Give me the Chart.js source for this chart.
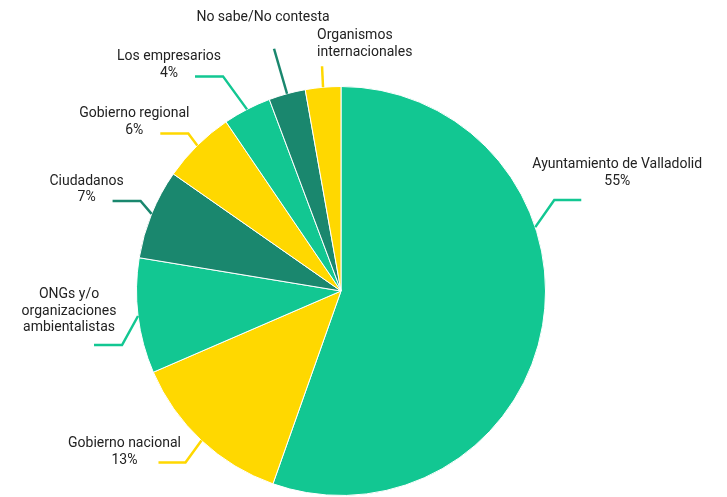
<!DOCTYPE html>
<html>
<head>
<meta charset="utf-8">
<script src="https://cdn.jsdelivr.net/npm/chart.js@4"></script>
<style>
  html, body { margin: 0; padding: 0; background: #fff; }
  #wrap { width: 727px; height: 497px; position: relative; }
</style>
</head>
<body>
<div id="wrap"><canvas id="pieChart"></canvas></div>
<script>
// datos
const categorias = [
  ['Ayuntamiento de Valladolid'],
  ['Gobierno nacional'],
  ['ONGs y/o', 'organizaciones', 'ambientalistas'],
  ['Ciudadanos'],
  ['Gobierno regional'],
  ['Los empresarios'],
  ['No sabe/No contesta'],
  ['Organismos', 'internacionales']
];
const valores = [55.4, 13.1, 9.1, 7.1, 5.8, 3.8, 2.9, 2.8];
const mostrarPct = [true, true, false, true, true, true, false, false];

const VERDE = '#12c792';
const AMARILLO = '#ffd800';
const OSCURO = '#1a876e';
const colores = [VERDE, AMARILLO, VERDE, OSCURO, AMARILLO, VERDE, OSCURO, AMARILLO];

// estilo de las etiquetas: fracción del sector, codo, tramo horizontal, desplazamiento del texto
const guias = [
  { f: 0.36, codo: [19, -27], h: 27,  txt: [36, -19], align: 'center' },
  { f: 0.5,  codo: [-16, 22], h: -27, txt: [-34, -2], align: 'center' },
  { f: 0.5,  codo: [-16, 29], h: -28, txt: [-25, -17], align: 'center' },
  { f: 0.5,  codo: [-11, -13], h: -28, txt: [-26, -3], align: 'center' },
  { f: 0.5,  codo: [-9, -12], h: -28, txt: [-26, -3], align: 'center' },
  { f: 0.5,  codo: [-24, -33], h: -28, txt: [-26, -3], align: 'center' },
  { f: 0.5,  codo: [-13, -45], h: 0,  txt: [-11, -31], align: 'center' },
  { f: 0.5,  codo: [-1, -21], h: 0,   txt: [-5, -14], align: 'left' }
];

const total = valores.reduce((a, b) => a + b, 0);

const etiquetasPlugin = {
  id: 'etiquetas',
  afterDatasetsDraw(chart) {
    const ctx = chart.ctx;
    const arcs = chart.getDatasetMeta(0).data;
    ctx.save();
    arcs.forEach((arc, i) => {
      const g = guias[i];
      const ang = arc.startAngle + (arc.endAngle - arc.startAngle) * g.f;
      const ex = arc.x + Math.cos(ang) * arc.outerRadius;
      const ey = arc.y + Math.sin(ang) * arc.outerRadius;
      const cx = ex + g.codo[0], cy = ey + g.codo[1];
      const fx = cx + g.h, fy = cy;
      ctx.strokeStyle = colores[i];
      ctx.lineWidth = 2.5;
      ctx.lineJoin = 'miter';
      ctx.beginPath();
      ctx.moveTo(ex, ey);
      ctx.lineTo(cx, cy);
      if (g.h !== 0) ctx.lineTo(fx, fy);
      ctx.stroke();

      const lineas = categorias[i].slice();
      if (mostrarPct[i]) lineas.push(Math.round(valores[i] / total * 100) + '%');
      ctx.fillStyle = '#222';
      ctx.font = '14px Roboto';
      ctx.textAlign = g.align;
      ctx.textBaseline = 'middle';
      const tx = fx + g.txt[0];
      const ty = fy + g.txt[1];
      const n = lineas.length;
      lineas.forEach((l, k) => {
        ctx.fillText(l, tx, ty - (n - 1 - k) * 16.7);
      });
    });
    ctx.restore();
  }
};

new Chart(document.getElementById('pieChart'), {
  type: 'pie',
  data: {
    labels: categorias.map(c => c.join(' ')),
    datasets: [{
      data: valores,
      backgroundColor: colores,
      borderColor: '#ffffff',
      borderWidth: 1
    }]
  },
  options: {
    responsive: true,
    maintainAspectRatio: false,
    animation: false,
    layout: { padding: { top: 86, bottom: 1, left: 0, right: 45 } },
    plugins: {
      legend: { display: false },
      tooltip: { enabled: false }
    }
  },
  plugins: [etiquetasPlugin]
});
</script>
</body>
</html>
